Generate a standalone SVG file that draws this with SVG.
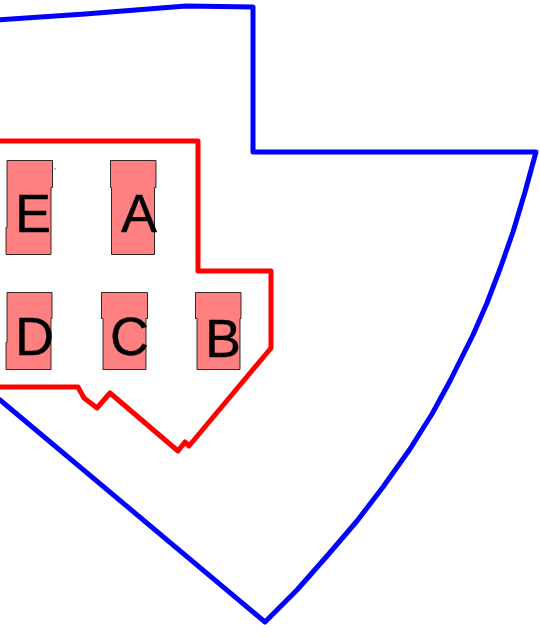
<svg xmlns="http://www.w3.org/2000/svg" width="540" height="637" viewBox="0 0 540 637">
<style>
.blue{fill:none;stroke:#0000ff;stroke-width:5;stroke-linejoin:round}
.red{fill:none;stroke:#ff0000;stroke-width:5;stroke-linejoin:round}
.seat{fill:#ff8080;stroke:#000;stroke-width:1;stroke-opacity:.8}
.lbl{font-family:"Liberation Sans",Arial,sans-serif;font-size:54px;fill:#000;stroke:#000;stroke-width:.4}
</style>
<g id="connectors">
<path id="outer" class="blue" d="M-4 20L85 14L186 6L253 7L253 152L536 152L525 192L513 232L500 269L487 303L473 335L450 381L432 414L410 449L383 487L357 521L327 556L297 590L265 622L0 400L-4 397"/>
<path id="inner" class="red" d="M-4 141L198 141L198 271L271 271L271 348L189 446L185 442L178 451L110 393L97 408L84 398L78 387L-4 387"/>
</g>
<g id="E"><path class="seat" d="M7 160.500H52.500V187.500H51V254.500H6V227.500H7Z"/><path d="M54.500 169H55.500" stroke="#000" stroke-width="1" fill="none"/><text class="lbl" x="15" y="232">E</text></g>
<g id="A"><path class="seat" d="M110.500 160.500H156V187.500H154.500V254.500H111.500V187.500H110.500Z"/><text class="lbl" x="121" y="232">A</text></g>
<g id="D"><path class="seat" d="M7 292.500H52V318.500H51V369.500H6V342.500H7Z"/><text class="lbl" x="15" y="355">D</text></g>
<g id="C"><path class="seat" d="M101.500 292.500H147.500V318.500H146V369.500H103V318.500H101.500Z"/><text class="lbl" x="110" y="355">C</text></g>
<g id="B"><path class="seat" d="M195.500 292.500H241V318.500H240V369.500H197V318.500H195.500Z"/><text class="lbl" x="205" y="357">B</text></g>
</svg>
